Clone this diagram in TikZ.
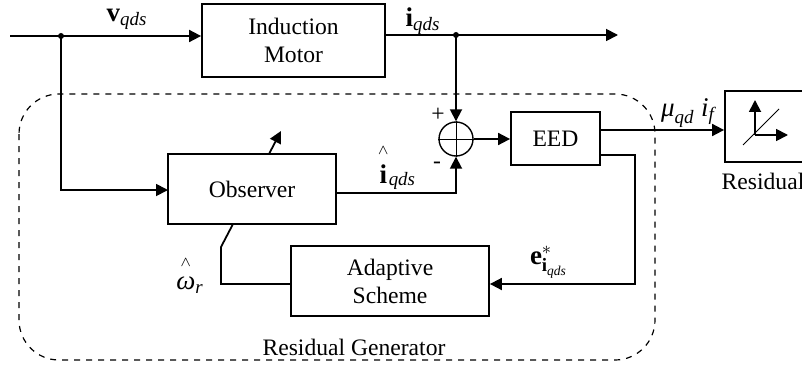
\documentclass[tikz,border=0pt]{standalone}
\usepackage{fontspec}
\setmainfont{Liberation Serif}
\usetikzlibrary{arrows.meta}
\newcommand{\farhat}[1]{\stackrel{\raisebox{3pt}{$\scriptscriptstyle\wedge$}}{#1}}
\newcommand{\qds}{\mathit{qds}}
\tikzset{
  blockbox/.style={draw, line width=0.9pt, inner sep=0pt, align=center},
  signal/.style={line width=0.9pt},
  flow/.style={signal, -{Triangle[length=6pt,width=6pt]}},
  lbl/.style={inner sep=0pt},
  mathlbl/.style={inner sep=0pt, font=\fontsize{13.5}{16}\selectfont}
}
\begin{document}
\begin{tikzpicture}[x=0.5pt, y=-0.5pt, font=\fontsize{11.8}{14}\selectfont]
\useasboundingbox (0,0) rectangle (802,369);

% Blocks
\node[blockbox, minimum width=91.5pt, minimum height=36.5pt] (motor) at (293.5,40.5) {Induction\\Motor};
\node[blockbox, minimum width=84pt, minimum height=35pt] (observer) at (252,189) {Observer};
\node[blockbox, minimum width=99pt, minimum height=35pt] (adaptive) at (390,281) {Adaptive\\Scheme};
\node[blockbox, minimum width=44.5pt, minimum height=26.5pt] (eed) at (555.5,138.5) {EED};
\node[blockbox, minimum width=45pt, minimum height=35.5pt] (residual) at (770,126.5) {};
\node[draw, circle, line width=0.7pt, minimum size=17pt, inner sep=0pt] (sum) at (456,139) {};
\draw[line width=0.4pt] (sum.north) -- (sum.south);
\draw[line width=0.4pt] (sum.west) -- (sum.east);

% Residual generator frame
\draw[dashed, line width=0.6pt, rounded corners=20pt] (19,94) rectangle (655,360);

% Branch points
\coordinate (start) at (10,36);
\coordinate (vjoin) at (61,36);
\coordinate (ijoin) at (456,35);
\coordinate (iend) at (618,35);
\coordinate (eedout) at (600,130);
\coordinate (eeddown) at (635,155);
\coordinate (eedcorner) at (635,284);
\coordinate (obsin) at (168,190);
\coordinate (obsturn) at (456,193);
\coordinate (wcorner) at (221,284);
\coordinate (wbend) at (221,247);
\coordinate (wtop) at (233,224);
\coordinate (adjbase) at (269,154);
\coordinate (adjtip) at (281,131);
\fill (vjoin) circle (3);
\fill (ijoin) circle (3);

% Signals
\draw[flow] (start) -- (vjoin) -- (vjoin -| motor.west);
\draw[flow] (vjoin) |- (obsin);
\draw[flow] (ijoin -| motor.east) -- (ijoin) -- (iend);
\draw[flow] (ijoin) -- (sum.north);
\draw[flow] (observer.east |- obsturn) -- (obsturn) -- (sum.south);
\draw[flow] (sum.east) -- (sum.east -| eed.west);
\draw[flow] (eedout) -- (eedout -| residual.west);
\draw[flow] (eed.east |- eeddown) -- (eeddown) -- (eedcorner) -- (eedcorner -| adaptive.east);
\draw[signal] (wcorner -| adaptive.west) -- (wcorner) -- (wbend) -- (wtop);
\draw[flow] (adjbase) -- (adjtip);

% Axes in residual block
\coordinate (origin) at (755,135);
\coordinate (axisup) at (755,100);
\coordinate (axisright) at (788,135);
\coordinate (axisa) at (743,145);
\coordinate (axisb) at (779,109);
\draw[flow] (origin) -- (axisup);
\draw[flow] (origin) -- (axisright);
\draw[line width=0.5pt] (axisa) -- (axisb);

% Labels
\node[mathlbl] (vlabel) at (127,19) {$\mathbf{v}_{\qds}$};
\node[mathlbl] (ilabel) at (423,21) {$\mathbf{i}_{\qds}$};
\node[lbl] (plus) at (438,115) {+};
\node[lbl] (minus) at (437,165) {-};
\node[mathlbl] (ihat) at (397,167) {$\farhat{\mathbf{i}}_{\qds}$};
\node[mathlbl] (mulabel) at (688,113) {$\textit{μ}_{\mathit{qd}}\ \mathit{i}_{\mathit{f}}$};
\node[lbl] (residualtext) at (763,181) {Residual};
\node[mathlbl] (wlabel) at (190,275) {$\farhat{\textit{ω}}_{\mathit{r}}$};
\node[mathlbl] (elabel) at (549,262) {$\mathbf{e}^{*}_{\mathbf{i}_{\qds}}$};
\node[lbl] (gentext) at (354,347) {Residual Generator};
\end{tikzpicture}
\end{document}
